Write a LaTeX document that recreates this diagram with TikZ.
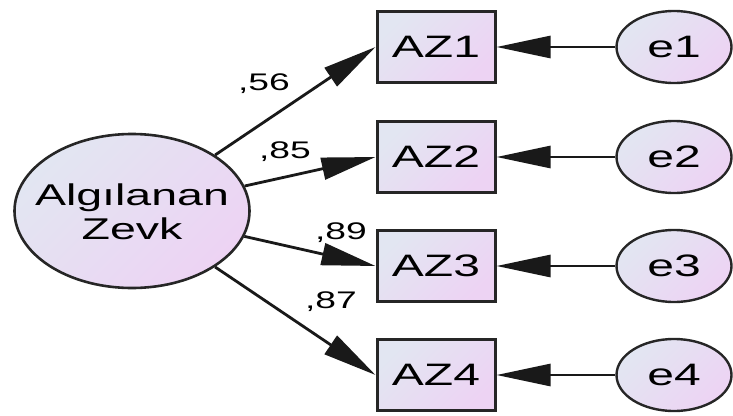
\documentclass[tikz,border=0pt]{standalone}
\usepackage{fontspec}
\setmainfont{Liberation Sans}
\usetikzlibrary{arrows.meta,shapes.geometric}
\definecolor{fillA}{HTML}{E2E6F2}
\definecolor{fillB}{HTML}{EDD3F3}
\newcommand{\wide}[1]{\scalebox{1.55}[1]{#1}}
\tikzset{
  shaded/.style={top color=fillA, bottom color=fillB, shading angle=45},
  latent/.style={ellipse, draw=black!85, line width=2.6pt, shaded,
    minimum width=235pt, minimum height=154pt, inner sep=0pt},
  latenttext/.style={inner sep=0pt, align=center,
    font=\fontsize{30}{33}\selectfont},
  observed/.style={rectangle, draw=black!85, line width=3pt, shaded,
    minimum width=118pt, minimum height=71pt, inner sep=0pt,
    font=\fontsize{31}{33}\selectfont},
  errvar/.style={ellipse, draw=black!85, line width=2.4pt, shaded,
    minimum width=115pt, minimum height=72pt, inner sep=0pt,
    font=\fontsize{31}{33}\selectfont},
  path/.style={draw=black!90, line width=2.8pt,
    -{Triangle[length=54pt,width=22pt]}},
  coef/.style={font=\fontsize{24}{26}\selectfont, inner sep=0pt}
}
\begin{document}
\begin{tikzpicture}[x=1pt,y=-1pt]
  \useasboundingbox (0,0) rectangle (733,415);

  % latent factor (outline and its two-line name)
  \node[latent] (L) at (132,211) {};
  \node[latenttext] (Lname) at (132,212) {\wide{Algılanan}\\[1pt]\wide{Zevk}};

  % indicators and their error terms
  \node[observed] (AZ1) at (436,47)  {\wide{AZ1}};
  \node[observed] (AZ2) at (436,157) {\wide{AZ2}};
  \node[observed] (AZ3) at (436,266) {\wide{AZ3}};
  \node[observed] (AZ4) at (436,375) {\wide{AZ4}};

  \node[errvar] (e1) at (674,47)  {\wide{e1}};
  \node[errvar] (e2) at (674,157) {\wide{e2}};
  \node[errvar] (e3) at (674,266) {\wide{e3}};
  \node[errvar] (e4) at (674,375) {\wide{e4}};

  % loadings
  \draw[path] (L) -- (AZ1.west);
  \draw[path] (L) -- (AZ2.west);
  \draw[path] (L) -- (AZ3.west);
  \draw[path] (L) -- (AZ4.west);

  % error paths
  \draw[path] (e1) -- (AZ1);
  \draw[path] (e2) -- (AZ2);
  \draw[path] (e3) -- (AZ3);
  \draw[path] (e4) -- (AZ4);

  % standardized loadings
  \node[coef] (c1) at (264,84)  {\wide{,56}};
  \node[coef] (c2) at (285,152) {\wide{,85}};
  \node[coef] (c3) at (341,233) {\wide{,89}};
  \node[coef] (c4) at (331,302) {\wide{,87}};
\end{tikzpicture}
\end{document}
